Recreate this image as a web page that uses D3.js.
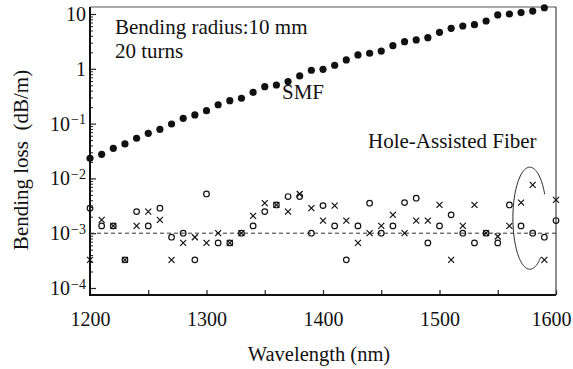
<!DOCTYPE html>
<html>
<head>
<meta charset="utf-8">
<script src="https://cdn.jsdelivr.net/npm/d3@7"></script>
<style>
  body { margin: 0; background: #fff; }
  svg { display: block; font-family: "Liberation Serif", "Times New Roman", serif; }
</style>
</head>
<body>
<div id="chart"></div>
<script>
// SMF bending loss (dB/m)
const smfWavelength = [1200, 1210, 1220, 1230, 1240, 1250, 1260, 1270, 1280, 1290,
  1300, 1310, 1320, 1330, 1340, 1350, 1360, 1370, 1380, 1390,
  1400, 1410, 1420, 1430, 1440, 1450, 1460, 1470, 1480, 1490,
  1500, 1510, 1520, 1530, 1540, 1550, 1560, 1570, 1580, 1590];
const smfLoss = [0.0233, 0.0275, 0.0354, 0.0425, 0.054, 0.0665, 0.0787, 0.0984, 0.125, 0.144,
  0.172, 0.221, 0.262, 0.290, 0.372, 0.471, 0.506, 0.586, 0.740, 0.94,
  0.98, 1.16, 1.45, 1.79, 1.92, 2.11, 2.64, 3.12, 3.36, 3.70,
  4.63, 5.48, 6.04, 6.38, 7.45, 9.6, 10.0, 10.6, 11.3, 13.0];

// Hole-assisted fiber, two measurements (circles and crosses)
const hafWavelength = [1200, 1210, 1220, 1230, 1240, 1250, 1260, 1270, 1280, 1290,
  1300, 1310, 1320, 1330, 1340, 1350, 1360, 1370, 1380, 1390,
  1400, 1410, 1420, 1430, 1440, 1450, 1460, 1470, 1480, 1490,
  1500, 1510, 1520, 1530, 1540, 1550, 1560, 1570, 1580, 1590, 1600];
const hafLossCircle = [2.86e-3, 1.36e-3, 1.36e-3, 0.326e-3, 2.48e-3, 1.36e-3, 2.86e-3, 0.845e-3, 1.0e-3, 0.326e-3,
  5.2e-3, 0.665e-3, 0.665e-3, 1.0e-3, 1.36e-3, 2.48e-3, 3.28e-3, 4.66e-3, 4.66e-3, 1.0e-3,
  3.19e-3, 1.36e-3, 0.326e-3, 1.36e-3, 3.53e-3, 1.0e-3, 1.36e-3, 3.62e-3, 4.35e-3, 0.665e-3,
  1.36e-3, 2.16e-3, 1.0e-3, 0.665e-3, 1.0e-3, 0.665e-3, 3.28e-3, 1.36e-3, 1.0e-3, 0.845e-3, 1.70e-3];
const hafLossCross = [0.326e-3, 1.75e-3, 1.36e-3, 0.326e-3, 1.36e-3, 2.48e-3, 1.75e-3, 0.326e-3, 0.665e-3, 0.845e-3,
  0.665e-3, 1.0e-3, 0.665e-3, 1.0e-3, 2.07e-3, 3.53e-3, 3.28e-3, 2.48e-3, 5.2e-3, 2.86e-3,
  1.70e-3, 3.19e-3, 1.70e-3, 0.665e-3, 1.0e-3, 1.36e-3, 2.16e-3, 1.0e-3, 1.70e-3, 1.70e-3,
  3.28e-3, 0.326e-3, 1.36e-3, 3.28e-3, 1.0e-3, 0.87e-3, 1.36e-3, 3.62e-3, 7.6e-3, 0.326e-3, 4.05e-3];

const referenceLoss = 1e-3;
const xTickValues = [1200, 1250, 1300, 1350, 1400, 1450, 1500, 1550, 1600];
const yExponents = [1, 0, -1, -2, -3, -4];
// circled group of points (wavelength range, loss range)
const circledWavelength = [1563, 1592];
const circledLoss = [2.2e-4, 1.6e-2];

const width = 573, height = 369;
const plotLeft = 90, plotRight = 556, plotTop = 7, plotBottom = 295;

const svg = d3.select('#chart').append('svg')
  .attr('width', width)
  .attr('height', height)
  .attr('viewBox', [0, 0, width, height]);

const x = d3.scaleLinear().domain([1200, 1600]).range([plotLeft, plotRight]);
const y = d3.scaleLog().domain([7.45e-5, 13.42]).range([plotBottom, plotTop]);

// minor y ticks
const minorTicks = [];
yExponents.forEach(k => {
  for (let m = 2; m <= 9; m++) {
    const v = m * Math.pow(10, k);
    if (v >= y.domain()[0] && v <= y.domain()[1]) minorTicks.push(v);
  }
});

svg.append('g')
  .attr('transform', `translate(${plotLeft},0)`)
  .call(d3.axisLeft(y).tickValues(minorTicks).tickSize(-3).tickFormat(''))
  .call(g => g.select('.domain').remove())
  .call(g => g.selectAll('line').attr('stroke', '#222').attr('stroke-width', 1));

const yAxis = svg.append('g')
  .attr('transform', `translate(${plotLeft},0)`)
  .call(d3.axisLeft(y).tickValues(yExponents.map(k => Math.pow(10, k)))
    .tickSize(-6).tickPadding(4).tickFormat(''))
  .call(g => g.select('.domain').remove())
  .call(g => g.selectAll('line').attr('stroke', '#222').attr('stroke-width', 1.2));

yAxis.selectAll('.tick text')
  .attr('font-size', 20)
  .attr('fill', '#111')
  .attr('font-family', '"Liberation Serif", serif')
  .each(function(d) {
    const k = Math.round(Math.log10(d));
    const t = d3.select(this);
    if (k === 0) { t.text('1'); return; }
    t.append('tspan').text('10');
    if (k < 0) {
      t.append('tspan').attr('font-size', 14).attr('dy', '-0.45em').attr('dx', 1)
        .text('\u2212' + (-k));
    }
  });

// x axis
svg.append('g')
  .attr('transform', `translate(0,${plotBottom})`)
  .call(d3.axisBottom(x).tickValues(xTickValues).tickSize(-5).tickPadding(17)
    .tickFormat(d => d % 100 === 0 ? d : ''))
  .call(g => g.select('.domain').remove())
  .call(g => g.selectAll('line').attr('stroke', '#222').attr('stroke-width', 1.2))
  .call(g => g.selectAll('text').attr('font-size', 20).attr('fill', '#111')
    .attr('font-family', '"Liberation Serif", serif')
    .attr('dx', d => d === 1600 ? -5 : 0));

// frame
svg.append('line').attr('x1', plotLeft).attr('x2', plotRight).attr('y1', plotTop).attr('y2', plotTop)
  .attr('stroke', '#555').attr('stroke-width', 1.2);
svg.append('line').attr('x1', plotRight).attr('x2', plotRight).attr('y1', plotTop).attr('y2', plotBottom)
  .attr('stroke', '#444').attr('stroke-width', 1.2);
svg.append('line').attr('x1', plotLeft).attr('x2', plotLeft).attr('y1', plotTop).attr('y2', plotBottom + 1)
  .attr('stroke', '#111').attr('stroke-width', 2);
svg.append('line').attr('x1', plotLeft - 1).attr('x2', plotRight).attr('y1', plotBottom).attr('y2', plotBottom)
  .attr('stroke', '#111').attr('stroke-width', 2);

// reference dashed line
svg.append('line')
  .attr('x1', x(1200)).attr('x2', x(1600))
  .attr('y1', y(referenceLoss)).attr('y2', y(referenceLoss))
  .attr('stroke', '#333').attr('stroke-width', 1).attr('stroke-dasharray', '4,3');

// SMF points
svg.append('g').selectAll('circle')
  .data(smfWavelength.map((w, i) => [w, smfLoss[i]]))
  .join('circle')
  .attr('cx', d => x(d[0]))
  .attr('cy', d => y(d[1]))
  .attr('r', 3.6)
  .attr('fill', '#111');

// HAF circles
svg.append('g').selectAll('circle')
  .data(hafWavelength.map((w, i) => [w, hafLossCircle[i]]))
  .join('circle')
  .attr('cx', d => x(d[0]))
  .attr('cy', d => y(d[1]))
  .attr('r', 2.8)
  .attr('fill', 'none')
  .attr('stroke', '#111')
  .attr('stroke-width', 1.2);

// HAF crosses
const s = 3;
svg.append('g').selectAll('path')
  .data(hafWavelength.map((w, i) => [w, hafLossCross[i]]))
  .join('path')
  .attr('transform', d => `translate(${x(d[0])},${y(d[1])})`)
  .attr('d', `M${-s},${-s}L${s},${s}M${-s},${s}L${s},${-s}`)
  .attr('stroke', '#111')
  .attr('stroke-width', 1.2)
  .attr('fill', 'none');

// ellipse around the long-wavelength points, open on the right
const ecx = (x(circledWavelength[0]) + x(circledWavelength[1])) / 2;
const ecy = (y(circledLoss[0]) + y(circledLoss[1])) / 2;
const erx = (x(circledWavelength[1]) - x(circledWavelength[0])) / 2;
const ery = (y(circledLoss[0]) - y(circledLoss[1])) / 2;
const angles = d3.range(50, 334, 2).map(a => a * Math.PI / 180);
svg.append('path')
  .attr('d', d3.line()(angles.map(a => [ecx + erx * Math.cos(a), ecy + ery * Math.sin(a)])))
  .attr('fill', 'none')
  .attr('stroke', '#222')
  .attr('stroke-width', 1);

// annotations
const ann = svg.append('g').attr('fill', '#111').attr('font-size', 21);
ann.append('text').attr('x', 115).attr('y', 34).text('Bending radius:10 mm');
ann.append('text').attr('x', 115).attr('y', 58).text('20 turns');
ann.append('text').attr('x', 282).attr('y', 99).text('SMF');
ann.append('text').attr('x', 368).attr('y', 148).text('Hole-Assisted Fiber');

// axis titles
svg.append('text')
  .attr('x', 319).attr('y', 361)
  .attr('text-anchor', 'middle')
  .attr('font-size', 20.5)
  .attr('fill', '#111')
  .text('Wavelength (nm)');

svg.append('text')
  .attr('transform', 'translate(28,160) rotate(-90)')
  .attr('text-anchor', 'middle')
  .attr('font-size', 21)
  .attr('fill', '#111')
  .style('white-space', 'pre')
  .text('Bending loss  (dB/m)');
</script>
</body>
</html>
